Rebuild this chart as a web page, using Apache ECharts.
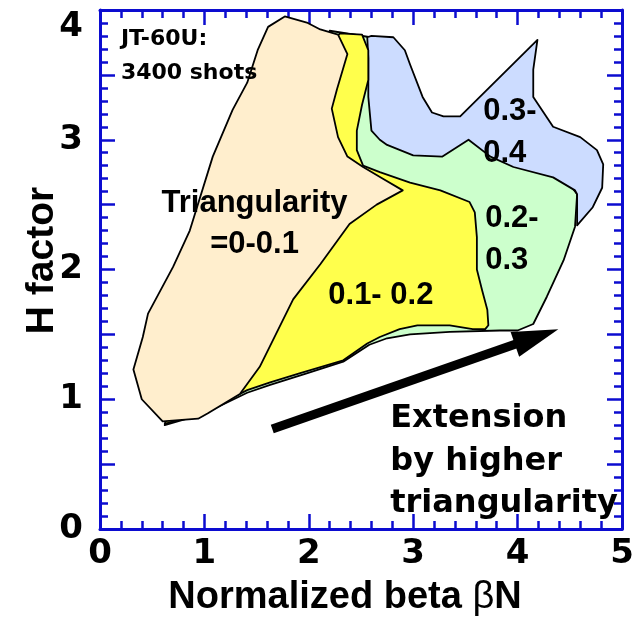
<!DOCTYPE html>
<html>
<head>
<meta charset="utf-8">
<script src="https://cdn.jsdelivr.net/npm/echarts@6/dist/echarts.min.js"></script>
<style>
  html, body { margin: 0; padding: 0; background: #fff; }
  #chart { width: 637px; height: 622px; }
</style>
</head>
<body>
<div id="chart"></div>
<script>
// JT-60U operating regions in the (normalized beta, H factor) plane,
// one closed outline per triangularity band: [betaN, H]
const regionNames = ['0.2-0.3', '0.3-0.4', '0.1-0.2', '0-0.1'];

const region02_03 = [
  [2.20, 3.84], [2.59, 3.79], [2.68, 3.61], [2.87, 3.33], [3.16, 3.10], [3.45, 3.02],
  [3.83, 2.94], [4.41, 2.75], [4.57, 2.58], [4.55, 2.33], [4.44, 2.07], [4.28, 1.79],
  [4.15, 1.58], [4.00, 1.53], [3.83, 1.53], [3.35, 1.52], [2.97, 1.50], [2.75, 1.47],
  [2.58, 1.42], [2.33, 1.29], [1.98, 1.20], [1.63, 1.11], [1.41, 1.05], [1.00, 0.89],
  [0.62, 0.80], [1.50, 2.50], [2.20, 3.60]
];

const region03_04 = [
  [2.56, 3.79], [2.60, 3.80], [2.81, 3.79], [2.92, 3.69], [2.97, 3.58], [3.09, 3.33],
  [3.18, 3.21], [3.29, 3.18], [3.45, 3.18], [4.19, 3.77], [4.15, 3.54], [4.15, 3.33],
  [4.34, 3.10], [4.60, 3.02], [4.76, 2.92], [4.82, 2.81], [4.81, 2.63], [4.72, 2.48],
  [4.57, 2.34], [4.57, 2.58], [4.55, 2.61], [4.34, 2.71], [3.96, 2.79], [3.74, 2.87],
  [3.53, 3.00], [3.28, 2.87], [3.00, 2.88], [2.75, 2.96], [2.68, 3.00], [2.60, 3.07],
  [2.57, 3.33], [2.57, 3.48], [2.57, 3.63]
];

const region01_02 = [
  [2.30, 3.82], [2.51, 3.81], [2.57, 3.69], [2.57, 3.46], [2.51, 3.27], [2.46, 3.07],
  [2.46, 2.92], [2.52, 2.80], [2.68, 2.75], [2.97, 2.67], [3.26, 2.61], [3.54, 2.52],
  [3.59, 2.44], [3.61, 2.25], [3.61, 2.00], [3.66, 1.84], [3.71, 1.69], [3.72, 1.57],
  [3.69, 1.54], [3.57, 1.54], [3.35, 1.57], [3.04, 1.57], [2.87, 1.54], [2.68, 1.48],
  [2.56, 1.43], [2.33, 1.30], [1.91, 1.20], [1.63, 1.13], [1.41, 1.07], [1.00, 0.90],
  [0.62, 0.81], [1.20, 2.00], [2.00, 3.60]
];

const region00_01 = [
  [1.77, 3.95], [1.99, 3.90], [2.11, 3.85], [2.28, 3.81], [2.37, 3.66], [2.27, 3.39],
  [2.22, 3.24], [2.28, 3.02], [2.37, 2.87], [2.52, 2.79], [2.71, 2.70], [2.90, 2.61],
  [2.65, 2.50], [2.39, 2.35], [2.11, 2.04], [1.85, 1.77], [1.53, 1.25], [1.34, 1.04],
  [1.03, 0.89], [0.94, 0.85], [0.60, 0.83], [0.40, 1.00], [0.32, 1.23], [0.41, 1.48],
  [0.46, 1.66], [0.70, 2.02], [0.86, 2.30], [1.08, 2.87], [1.27, 3.23], [1.41, 3.44],
  [1.51, 3.69], [1.61, 3.87]
];

// Arrow: direction of extension with higher triangularity
const arrowFrom = [1.65, 0.77];
const arrowTo = [4.39, 1.54];

// Axis tick labels
const xTickLabels = [0, 1, 2, 3, 4, 5];
const yTickLabels = [0, 1, 2, 3, 4];

// Annotations (text and anchor in data units)
const noteTexts = [
  'JT-60U:\n3400 shots',
  'Triangularity\n=0-0.1',
  '0.1- 0.2',
  '0.2-\n0.3',
  '0.3-\n0.4',
  'Extension\nby higher\ntriangularity'
];
const noteAnchors = [
  [0.20, 3.64], [1.48, 2.35], [2.69, 1.80], [3.69, 2.23], [3.67, 3.06], [2.78, 0.52]
];

// ---- styling ----
const regionData = [region02_03, region03_04, region01_02, region00_01];
const regionFill = ['#ccffcc', '#ccdcff', '#ffff4c', '#ffeecd'];

const noteStyles = [
  { fontFamily: 'DejaVu Sans', fontSize: 22, lineHeight: 34, align: 'left' },
  { fontFamily: 'Liberation Sans', fontSize: 31, lineHeight: 41, align: 'center' },
  { fontFamily: 'Liberation Sans', fontSize: 31, lineHeight: 41, align: 'center' },
  { fontFamily: 'Liberation Sans', fontSize: 31, lineHeight: 42, align: 'left' },
  { fontFamily: 'Liberation Sans', fontSize: 31, lineHeight: 42, align: 'left' },
  { fontFamily: 'DejaVu Sans', fontSize: 32, lineHeight: 42.5, align: 'left' }
];

const axisBlue = '#0c0cd0';
const tickFont = { fontFamily: 'DejaVu Sans', fontWeight: 'bold', fontSize: 34, color: '#000' };

function frameAxis(extra) {
  return Object.assign({
    type: 'value',
    gridIndex: 0,
    axisLine: { show: true, onZero: false, lineStyle: { color: axisBlue, width: 3 } },
    axisTick: { show: true, inside: true, length: 15, lineStyle: { color: axisBlue, width: 2.5 } },
    minorTick: { show: true, splitNumber: 5, length: 8, lineStyle: { color: axisBlue, width: 2.5 } },
    splitLine: { show: false },
    minorSplitLine: { show: false }
  }, extra);
}

function polygonSeries(name, points, fill) {
  return {
    type: 'custom',
    name: name,
    coordinateSystem: 'cartesian2d',
    xAxisIndex: 0,
    yAxisIndex: 0,
    silent: true,
    data: points,
    encode: { x: 0, y: 1 },
    renderItem: function (params, api) {
      if (params.dataIndex !== 0) return null;
      const pts = points.map(p => api.coord(p));
      return {
        type: 'polygon',
        shape: { points: pts },
        style: { fill: fill, stroke: '#000', lineWidth: 1.8, lineJoin: 'round' }
      };
    }
  };
}

const arrowSeries = {
  type: 'custom',
  coordinateSystem: 'cartesian2d',
  xAxisIndex: 0,
  yAxisIndex: 0,
  silent: true,
  z: 5,
  data: [[arrowFrom[0], arrowFrom[1], arrowTo[0], arrowTo[1]]],
  encode: { x: [0, 2], y: [1, 3] },
  renderItem: function (params, api) {
    const a = api.coord([api.value(0), api.value(1)]);
    const b = api.coord([api.value(2), api.value(3)]);
    const dx = b[0] - a[0], dy = b[1] - a[1];
    const len = Math.sqrt(dx * dx + dy * dy);
    const ux = dx / len, uy = dy / len;
    const nx = -uy, ny = ux;
    const headLen = 46, headHalf = 13;
    const base = [b[0] - ux * headLen, b[1] - uy * headLen];
    return {
      type: 'group',
      children: [
        {
          type: 'line',
          shape: { x1: a[0], y1: a[1], x2: base[0] + ux * 4, y2: base[1] + uy * 4 },
          style: { stroke: '#000', lineWidth: 9 }
        },
        {
          type: 'polygon',
          shape: { points: [b, [base[0] + nx * headHalf, base[1] + ny * headHalf], [base[0] - nx * headHalf, base[1] - ny * headHalf]] },
          style: { fill: '#000' }
        }
      ]
    };
  }
};

const noteSeries = {
  type: 'scatter',
  xAxisIndex: 0,
  yAxisIndex: 0,
  symbolSize: 0,
  silent: true,
  z: 10,
  itemStyle: { opacity: 1 },
  data: noteTexts.map((t, i) => ({
    value: noteAnchors[i],
    label: Object.assign({
      show: true,
      formatter: t,
      position: [0, 0],
      verticalAlign: 'middle',
      fontWeight: 'bold',
      color: '#000',
      opacity: 1,
      textBorderWidth: 0
    }, noteStyles[i])
  }))
};

const chart = echarts.init(document.getElementById('chart'), null, { renderer: 'canvas' });

chart.setOption({
  backgroundColor: '#fff',
  animation: false,
  grid: { left: 100, right: 15, top: 10, bottom: 90, containLabel: false },
  xAxis: [
    frameAxis({
      position: 'bottom', min: 0, max: 5, interval: 1,
      axisLabel: Object.assign({ margin: 8, formatter: v => xTickLabels.includes(v) ? String(v) : '' }, tickFont),
      name: 'Normalized beta {greek|β}N',
      nameLocation: 'middle',
      nameGap: 50,
      nameMoveOverlap: false,
      nameTextStyle: {
        fontFamily: 'Liberation Sans', fontWeight: 'bold', fontSize: 38, color: '#000', padding: [0, 32, 0, 0],
        rich: { greek: { fontFamily: 'Liberation Sans', fontWeight: 'normal', fontSize: 38, color: '#000' } }
      }
    }),
    frameAxis({ position: 'top', min: 0, max: 5, interval: 1, axisLabel: { show: false } })
  ],
  yAxis: [
    frameAxis({
      position: 'left', min: 0, max: 4, interval: 0.5,
      axisLabel: Object.assign({
        margin: 17,
        verticalAlignMaxLabel: 'top',
        formatter: v => yTickLabels.includes(v) ? String(v) : ''
      }, tickFont),
      name: 'H factor',
      nameLocation: 'middle',
      nameRotate: 90,
      nameGap: 38,
      nameMoveOverlap: false,
      nameTextStyle: { fontFamily: 'Liberation Sans', fontWeight: 'bold', fontSize: 39, color: '#000', padding: [0, 0, 0, 18] }
    }),
    frameAxis({ position: 'right', min: 0, max: 4, interval: 0.5, axisLabel: { show: false } })
  ],
  series: regionData.map((pts, i) => polygonSeries(regionNames[i], pts, regionFill[i]))
    .concat([arrowSeries, noteSeries])
});
</script>
</body>
</html>
